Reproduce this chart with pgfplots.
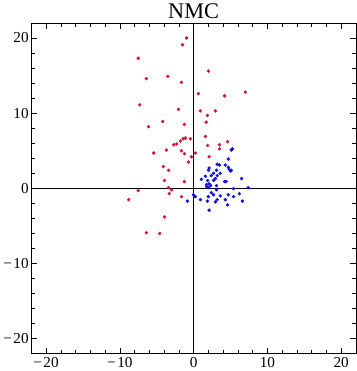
\documentclass[border=0pt]{standalone}
\usepackage{fontspec}
\setmainfont{Liberation Serif}
\usepackage{pgfplots}
\pgfplotsset{compat=1.18}
\definecolor{ptred}{RGB}{215,20,55}
\definecolor{ptblue}{RGB}{20,20,225}
\begin{document}
\begin{tikzpicture}[x=1bp,y=1bp]
\begin{axis}[
  scale only axis,
  width=319bp, height=325bp,
  xmin=-22, xmax=22, ymin=-22, ymax=22,
  xtick={-20,-10,0,10,20}, ytick={-20,-10,0,10,20},
  xticklabels={−\kern1.5bp20,−\kern1.5bp10,0,10,20},
  yticklabels={−\kern1.5bp20,−\kern1.5bp10,0,10,20},
  minor tick num=4,
  tick align=inside,
  major tick length=6bp, minor tick length=3.5bp,
  tick style={black, line width=0.5pt},
  axis line style={line width=0.6pt},
  ticklabel style={font=\fontsize{15}{15}\selectfont},
  yticklabel style={xshift=1bp},
  title={NMC},
  title style={font=\fontsize{22}{22}\selectfont, yshift=-5bp},
  clip=false,
]
\addplot[black, line width=0.7pt] coordinates {(-22,0) (22,0)};
\addplot[black, line width=0.7pt] coordinates {(0,-22) (0,22)};

% red series
\addplot[only marks, mark=*, mark size=1.5bp, ptred, mark options={draw=ptred, fill=ptred}] coordinates {
(-0.97,20.0) (-1.5,19.1) (-7.5,17.3) (2.0,15.6) (-6.4,14.6) (-3.5,14.9)
(-1.65,14.1) (7.0,12.8) (0.65,12.6) (4.2,12.3) (-7.3,11.1) (-2.05,10.5)
(0.9,10.3) (2.95,10.3) (1.87,9.7) (-4.2,8.9) (1.7,8.8) (-6.1,8.2)
(-1.25,8.5) (1.6,6.9) (-0.43,6.6) (-1.1,6.7) (-1.4,6.6) (-1.8,6.3)
(4.6,6.2) (3.5,5.8) (-2.3,5.9) (-2.7,5.8) (1.9,5.7) (3.5,5.25)
(-5.4,4.7) (-3.7,5.1) (-1.65,5.0) (-1.25,4.6) (0.24,4.7) (-0.3,4.2)
(2.1,4.2) (-0.7,3.5) (-4.1,2.9) (-3.4,2.4) (-3.95,1.05) (-1.25,0.9)
(-3.4,0.1) (-3.0,-0.2) (-3.3,-0.7) (-7.5,-0.3) (-8.8,-1.5) (-1.65,-1.1)
(-3.95,-3.8) (-6.4,-5.9) (-4.6,-6.0)
};

% blue series
\addplot[only marks, mark=*, mark size=1.5bp, ptblue, mark options={draw=ptblue, fill=ptblue}] coordinates {
(5.25,5.25) (5.1,5.1) (4.7,3.9) (3.2,3.2) (3.5,3.1) (4.3,3.1)
(4.7,2.8) (4.85,2.5) (5.1,2.4) (5.0,2.3) (2.1,2.7) (2.0,2.4)
(3.1,2.4) (2.7,2.0) (1.6,1.6) (2.4,1.7) (3.2,1.7) (3.6,2.0)
(1.05,1.2) (1.9,1.05) (2.95,1.3) (2.7,1.05) (4.2,0.9) (4.4,0.9)
(6.5,1.3) (1.75,0.5) (2.1,0.6) (1.75,0.23) (2.0,0.1) (2.3,0.37)
(3.1,0.37) (3.1,-0.18) (5.4,-0.04) (7.4,0.1) (2.4,-0.58) (2.7,-0.85)
(2.0,-1.1) (3.6,-1.0) (4.7,-0.85) (6.2,-0.72) (5.4,-1.1) (-0.03,-0.85)
(0.24,-1.1) (-0.84,-1.7) (0.92,-1.5) (1.87,-1.7) (2.95,-1.8) (3.2,-1.5)
(4.3,-1.5) (6.6,-1.7) (4.6,-2.2) (2.1,-2.9)
};
\end{axis}
\end{tikzpicture}
\end{document}
